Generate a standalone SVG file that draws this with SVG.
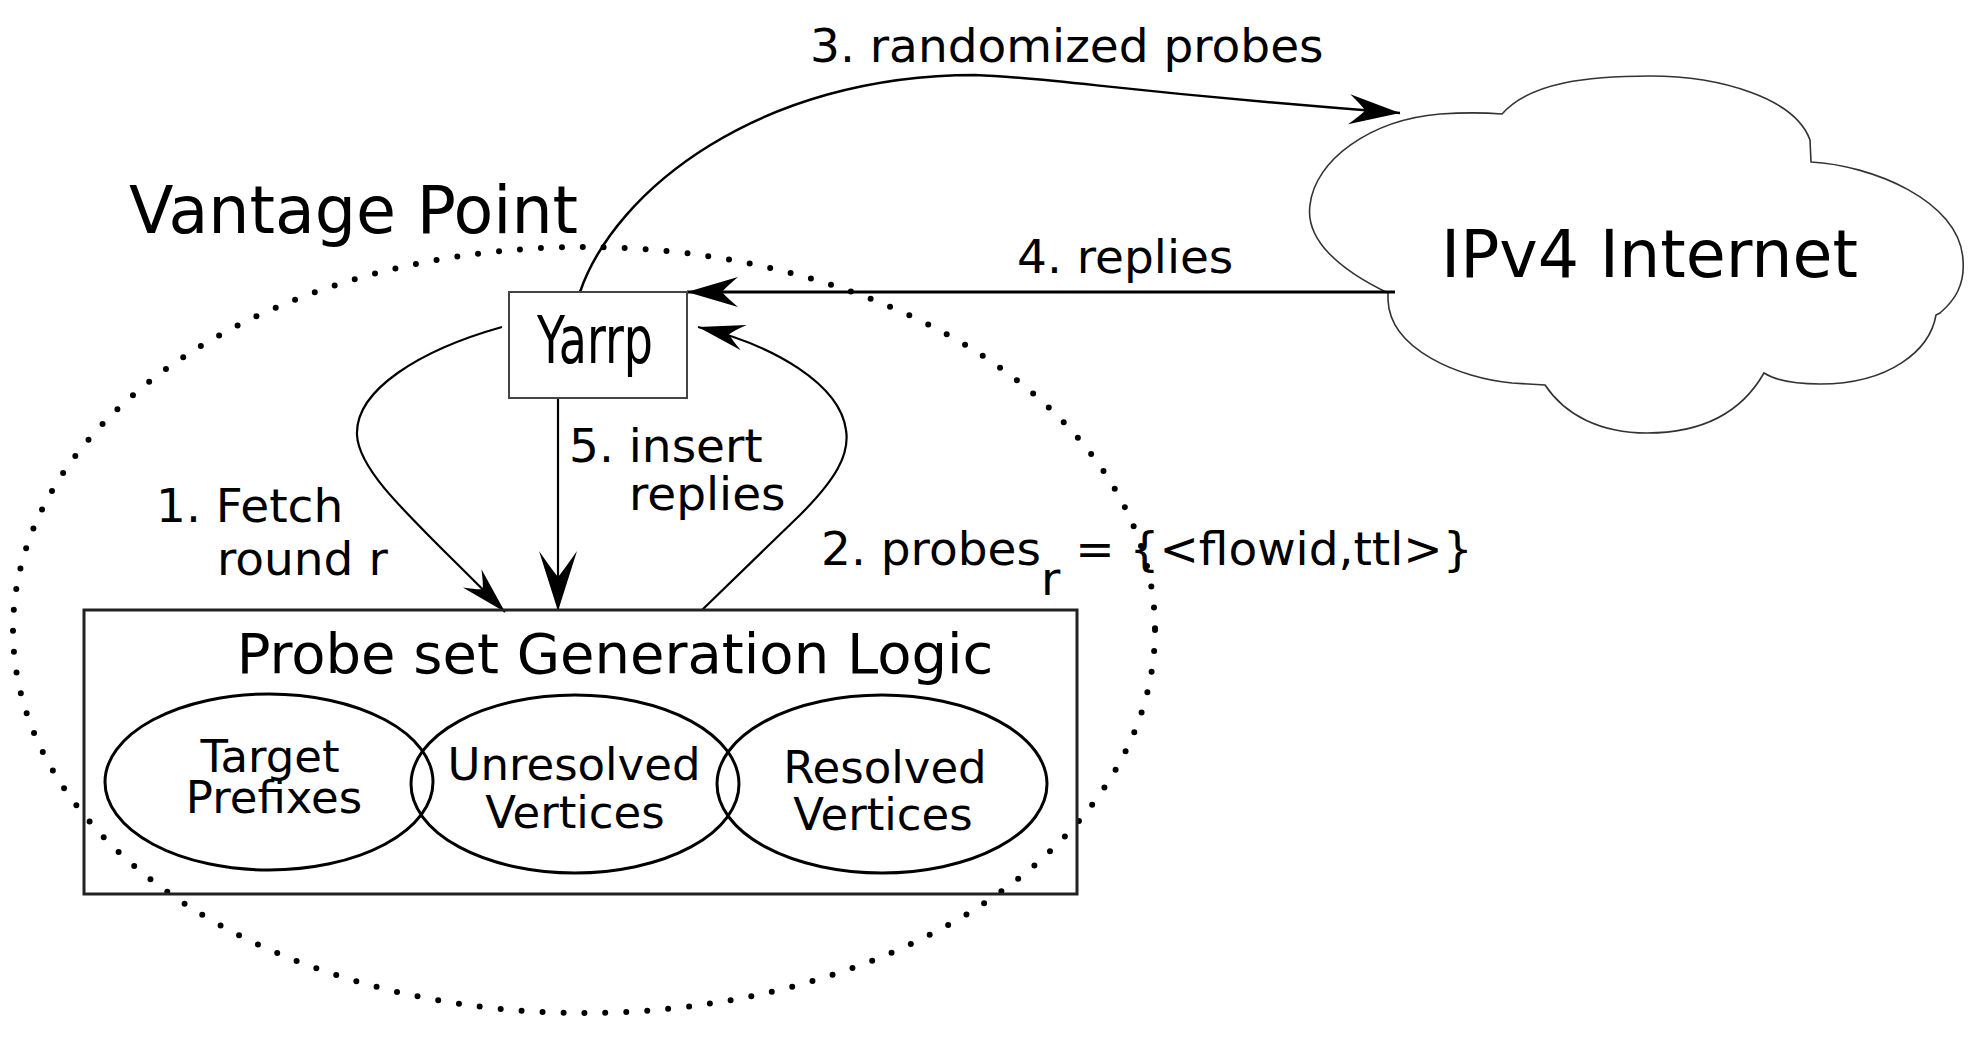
<svg xmlns="http://www.w3.org/2000/svg" width="1983" height="1039" viewBox="0 0 1983 1039">
<style>
text{font-family:"DejaVu Sans","Liberation Sans",sans-serif;fill:#000}
.lbl{font-size:47px}
.in{font-size:45px;text-anchor:middle}
.conn{fill:none;stroke:#000}
</style>
<defs>
<marker id="aL" markerUnits="userSpaceOnUse" viewBox="-70 -25 75 50" markerWidth="75" markerHeight="50" refX="0" refY="0" orient="auto">
<path d="M0,0 L-60,-19 Q-40,-5 -34,0 Q-40,5 -60,19 Z" fill="#000"/>
</marker>
<marker id="aM" markerUnits="userSpaceOnUse" viewBox="-70 -25 75 50" markerWidth="75" markerHeight="50" refX="0" refY="0" orient="auto">
<path d="M0,0 L-51,-15 Q-38,-4 -35,0 Q-38,4 -51,15 Z" fill="#000"/>
</marker>
<marker id="aS" markerUnits="userSpaceOnUse" viewBox="-70 -25 75 50" markerWidth="75" markerHeight="50" refX="0" refY="0" orient="auto">
<path d="M0,0 L-47,-13 Q-35,-4 -32,0 Q-35,4 -47,13 Z" fill="#000"/>
</marker>
</defs>
<rect width="1983" height="1039" fill="#fff"/>

<g id="vantage-point">
<ellipse cx="584" cy="630" rx="571" ry="383" fill="none" stroke="#000" stroke-width="6" stroke-linecap="round" stroke-dasharray="0 21"/>
<text x="129" y="233" font-size="65">Vantage Point</text>
</g>

<g id="internet">
<path d="M1388,293 C1340,270 1305,240 1310,205 C1315,160 1370,120 1440,114 C1470,112 1490,113 1502,114 C1530,82 1590,76 1650,76 C1720,76 1795,98 1810,140 L1811,162 C1870,165 1960,200 1963,260 C1965,285 1955,300 1940,313 L1936,315 C1930,350 1890,384 1820,384 C1795,384 1775,380 1764,373 C1740,415 1700,433 1647,433 C1600,433 1565,415 1545,385 L1512,383 C1460,378 1390,350 1388,300 Z" fill="#fff" stroke="#333" stroke-width="1.6"/>
<text x="1441" y="277" font-size="65">IPv4 Internet</text>
</g>

<g id="connectors">
<path class="conn" d="M580,292 C615,190 760,75 975,75 C1060,78 1120,92 1400,113" stroke-width="2.5" marker-end="url(#aM)"/>
<path class="conn" d="M1395,292 L687,292" stroke-width="2.8" marker-end="url(#aM)"/>
<path class="conn" d="M502,327 C420,350 355,390 357,435 C359,475 420,525 505,612" stroke-width="2.2" marker-end="url(#aS)"/>
<path class="conn" d="M558,398 L558,611" stroke-width="2.2" marker-end="url(#aL)"/>
<path class="conn" d="M702,610 L800,515 C835,480 850,455 846,430 C840,385 775,345 698,327" stroke-width="2.2" marker-end="url(#aS)"/>
<text class="lbl" x="810" y="62">3. randomized probes</text>
<text class="lbl" x="1017" y="273">4. replies</text>
<text class="lbl" x="156" y="522">1. Fetch</text>
<text class="lbl" x="217" y="575">round r</text>
<text class="lbl" x="569" y="462">5. insert</text>
<text class="lbl" x="629" y="510">replies</text>
<text class="lbl" x="821" y="565">2. probes<tspan dy="30">r</tspan><tspan dy="-30"> = {&lt;flowid,ttl&gt;}</tspan></text>
</g>

<g id="yarrp">
<rect x="509" y="292" width="178" height="106" fill="#fff" stroke="#444" stroke-width="2"/>
<text x="537" y="363" font-size="66" textLength="116" lengthAdjust="spacingAndGlyphs">Yarrp</text>
</g>

<g id="probe-set">
<rect x="84" y="610" width="993" height="284" fill="none" stroke="#222" stroke-width="3"/>
<text x="615" y="673" font-size="56" text-anchor="middle">Probe set Generation Logic</text>
</g>

<g id="target-prefixes">
<ellipse cx="269" cy="782" rx="164" ry="88" fill="none" stroke="#000" stroke-width="3"/>
<text class="in" x="270" y="772">Target</text>
<text class="in" x="274" y="813">Prefixes</text>
</g>

<g id="unresolved-vertices">
<ellipse cx="575" cy="784" rx="164" ry="89" fill="none" stroke="#000" stroke-width="3"/>
<text class="in" x="574" y="780">Unresolved</text>
<text class="in" x="575" y="828">Vertices</text>
</g>

<g id="resolved-vertices">
<ellipse cx="882" cy="784" rx="165" ry="89" fill="none" stroke="#000" stroke-width="3"/>
<text class="in" x="885" y="783">Resolved</text>
<text class="in" x="883" y="830">Vertices</text>
</g>
</svg>
